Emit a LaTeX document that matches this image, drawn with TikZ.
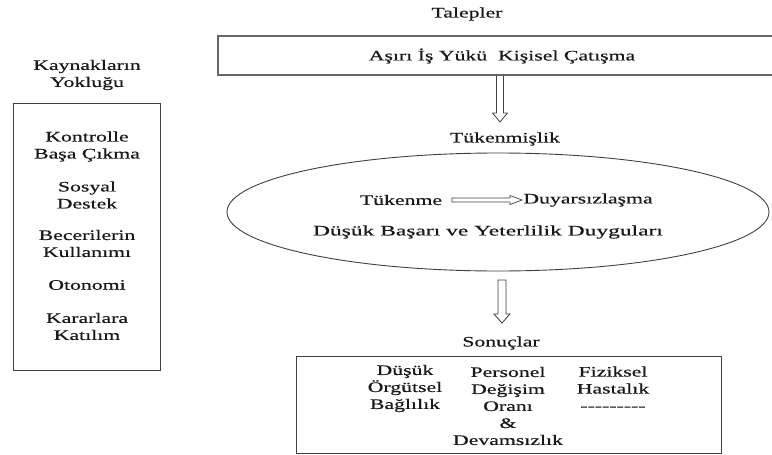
\documentclass[tikz,border=0pt]{standalone}
\usepackage{fontspec}
\setmainfont[FakeBold=0.4]{Liberation Serif}
\newfontfamily\heavy[FakeBold=0.4]{Liberation Serif}
\usetikzlibrary{shapes.geometric,calc}
\newcommand\sx[1]{\scalebox{1.5}[1]{#1}}
\newcommand\sxw[1]{\scalebox{1.62}[1]{#1}}
\tikzset{
  txt/.style={inner sep=0pt, align=center, text=black!90, font=\heavy\fontsize{14.5}{17}\selectfont},
  frame/.style={draw=black!75, line width=0.9pt},
  hollow/.style={draw=black!75, line width=0.8pt, line join=miter},
}
\begin{document}
\begin{tikzpicture}[x=1pt,y=-1pt]
\useasboundingbox (0,0) rectangle (772,455);
\clip (0,0) rectangle (772,455);
\fill[white] (0,0) rectangle (772,455);

% left column
\node[txt] (kay) at (87,75) {\sx{Kaynakların}\\\sx{Yokluğu}};
\draw[frame] (13,103) rectangle (160,370);
\node[txt] (kon) at (87,146.5) {\sx{Kontrolle}\\\sx{Başa Çıkma}};
\node[txt] (sos) at (87,195) {\sx{Sosyal}\\\sx{Destek}};
\node[txt] (bec) at (87,243.5) {\sx{Becerilerin}\\\sx{Kullanımı}};
\node[txt] (oto) at (87,285) {\sx{Otonomi}};
\node[txt] (kar) at (87,326.5) {\sx{Kararlara}\\\sx{Katılım}};

% top
\node[txt] (tal) at (467,14) {\sx{Talepler}};
\node[draw=black!60, line width=1.4pt, minimum width=560pt, minimum height=39pt, inner sep=0pt] (topbox) at (498,55.5) {};
\node[txt] (asiri) at (502,56) {\sx{Aşırı İş Yükü\ \ Kişisel Çatışma}};

% arrow 1
\coordinate (a1s) at (topbox.south -| 500,0);
\coordinate (a1e) at (500,122);
\draw[hollow] let \p1=(a1s), \p2=(a1e) in
  (\x1-3.5pt,\y1) -- (\x1-3.5pt,\y2+9pt) -- (\x1-7.5pt,\y2+9pt) -- (\x2,\y2)
  -- (\x1+7.5pt,\y2+9pt) -- (\x1+3.5pt,\y2+9pt) -- (\x1+3.5pt,\y1);

\node[txt] (tuk) at (505,139) {\sx{Tükenmişlik}};

% ellipse
\node[ellipse, frame, minimum width=542pt, minimum height=118pt, inner sep=0pt] (ell) at (498,212) {};
\node[txt] (tukm) at (401,200) {\sx{Tükenme}};
\node[txt] (duy) at (588,200) {\sx{Duyarsızlaşma}};
\coordinate (h1) at (452,200);
\coordinate (h2) at (522,200);
\draw[hollow, line width=0.7pt] let \p1=(h1), \p2=(h2) in
  (\x1,\y1-2pt) -- (\x2-12pt,\y1-2pt) -- (\x2-12pt,\y1-4.5pt) -- (\x2,\y1)
  -- (\x2-12pt,\y1+4.5pt) -- (\x2-12pt,\y1+2pt) -- (\x1,\y1+2pt) -- cycle;
\node[txt] (dus) at (488,232) {\sxw{Düşük Başarı ve Yeterlilik Duyguları}};

% arrow 2
\coordinate (a2s) at (502,280);
\coordinate (a2e) at (502,323);
\draw[hollow] let \p1=(a2s), \p2=(a2e) in
  (\x1-4pt,\y1) -- (\x1-4pt,\y2+9pt) -- (\x1-8pt,\y2+9pt) -- (\x2,\y2)
  -- (\x1+8pt,\y2+9pt) -- (\x1+4pt,\y2+9pt) -- (\x1+4pt,\y1) -- cycle;

\node[txt] (son) at (501,343) {\sx{Sonuçlar}};
\draw[frame] (296,356) rectangle (721,453);
\node[txt] (c1) at (405,388.5) {\sx{Düşük}\\\sx{Örgütsel}\\\sx{Bağlılık}};
\node[txt] (c2) at (508,406) {\sx{Personel}\\\sx{Değişim}\\\sx{Oranı}\\\sx{\&}\\\sx{Devamsızlık}};
\node[txt] (c3) at (613,388.5) {\sx{Fiziksel}\\\sx{Hastalık}\\\sx{-{}-{}-{}-{}-{}-{}-{}-{}-}};
\end{tikzpicture}
\end{document}
